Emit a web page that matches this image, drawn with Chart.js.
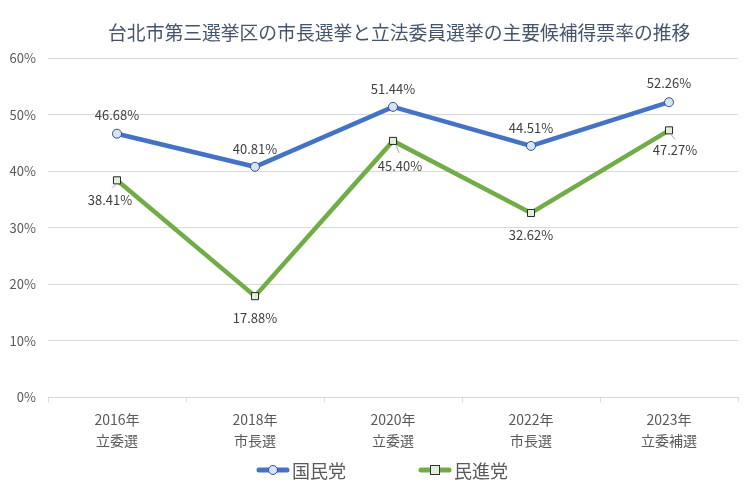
<!DOCTYPE html>
<html>
<head>
<meta charset="utf-8">
<script src="https://cdn.jsdelivr.net/npm/chart.js@4"></script>
<style>
  html, body { margin: 0; padding: 0; background: #fff; }
  #wrap { width: 753px; height: 497px; position: relative; }
  #legend { position: absolute; left: 256px; top: 458px; display: flex; gap: 72px;
            font-family: "Noto Sans CJK JP", "Noto Sans", sans-serif; font-size: 18px;
            line-height: 24px; color: #595959; }
  #legend .item { display: flex; align-items: center; gap: 2px; }
</style>
</head>
<body>
<div id="wrap"><canvas id="chart"></canvas><div id="legend"></div></div>
<script>
// categories (two-line labels)
const categories = [
    ['2016年', '立委選'],
    ['2018年', '市長選'],
    ['2020年', '立委選'],
    ['2022年', '市長選'],
    ['2023年', '立委補選']
]
// vote share (%)
const kmt = [46.68, 40.81, 51.44, 44.51, 52.26]   // 国民党
const dpp = [38.41, 17.88, 45.40, 32.62, 47.27]   // 民進党
const seriesNames = ['国民党', '民進党']

const FONT = '"Noto Sans CJK JP", "Noto Sans", sans-serif'
const BLUE = '#4472C4'
const GREEN = '#70AD47'

// label offsets relative to the point [dx, dy]
const kmtOffsets = [[0, -19], [0, -18], [0, -18], [0, -18], [0, -19]]
const dppOffsets = [[-7, 20], [0, 22], [7, 25], [0, 22], [6, 20]]
// leader lines for the green labels [x1, y1, x2, y2] relative to the point
const dppLeaders = [[-1, 4, -5, 8], null, [3, 4, 6, 12], null, [2, 4, 6, 9]]

// small canvas used as legend symbol: line with marker
function legendIcon(color, shape, fill) {
    const c = document.createElement('canvas')
    c.width = 34; c.height = 12
    const g = c.getContext('2d')
    g.strokeStyle = color
    g.lineWidth = 5
    g.lineCap = 'round'
    g.beginPath(); g.moveTo(3, 6); g.lineTo(31, 6); g.stroke()
    g.fillStyle = fill
    g.strokeStyle = shape === 'circle' ? '#2F528F' : '#333'
    g.lineWidth = 1
    if (shape === 'circle') {
        g.beginPath(); g.arc(17, 6, 4.5, 0, Math.PI * 2); g.fill(); g.stroke()
    } else {
        g.fillRect(12.5, 1.5, 9, 9); g.strokeRect(12.5, 1.5, 9, 9)
    }
    return c
}

// html legend built from the datasets
const htmlLegend = {
    id: 'htmlLegend',
    afterUpdate(chart) {
        const box = document.getElementById('legend')
        box.innerHTML = ''
        chart.data.datasets.forEach((ds, i) => {
            const item = document.createElement('div')
            item.className = 'item'
            item.appendChild(legendIcon(ds.borderColor, i === 0 ? 'circle' : 'rect', ds.pointBackgroundColor))
            const span = document.createElement('span')
            span.textContent = ds.label
            item.appendChild(span)
            box.appendChild(item)
        })
    }
}

// draw value labels next to points
const valueLabels = {
    id: 'valueLabels',
    afterDatasetsDraw(chart) {
        const ctx = chart.ctx
        ctx.save()
        ctx.font = '13px ' + FONT
        ctx.fillStyle = '#404040'
        ctx.textAlign = 'center'
        ctx.textBaseline = 'middle'
        const offs = [kmtOffsets, dppOffsets]
        chart.data.datasets.forEach((ds, i) => {
            const meta = chart.getDatasetMeta(i)
            meta.data.forEach((pt, j) => {
                const [dx, dy] = offs[i][j]
                const lead = i === 1 ? dppLeaders[j] : null
                if (lead) {
                    ctx.strokeStyle = '#a6a6a6'
                    ctx.lineWidth = 1
                    ctx.beginPath()
                    ctx.moveTo(pt.x + lead[0], pt.y + lead[1])
                    ctx.lineTo(pt.x + lead[2], pt.y + lead[3])
                    ctx.stroke()
                }
                ctx.fillText(ds.data[j].toFixed(2) + '%', pt.x + dx, pt.y + dy)
            })
        })
        ctx.restore()
    }
}

const chart = new Chart(document.getElementById('chart'), {
    type: 'line',
    data: {
        labels: categories,
        datasets: [{
            label: seriesNames[0],
            data: kmt,
            borderColor: BLUE,
            borderWidth: 4.5,
            pointStyle: 'circle',
            pointRadius: 4.5,
            pointBackgroundColor: '#DAE3F3',
            pointBorderColor: '#2F528F',
            pointBorderWidth: 1,
            tension: 0
        }, {
            label: seriesNames[1],
            data: dpp,
            borderColor: GREEN,
            borderWidth: 4.5,
            pointStyle: 'rect',
            pointRadius: 5,
            pointBackgroundColor: '#E2F0D9',
            pointBorderColor: '#262626',
            pointBorderWidth: 1,
            tension: 0
        }]
    },
    options: {
        responsive: true,
        maintainAspectRatio: false,
        animation: false,
        layout: { padding: { left: 4, right: 15, top: 4, bottom: 42 } },
        scales: {
            x: {
                offset: true,
                grid: { display: true, drawOnChartArea: false, offset: true, tickLength: 5, color: '#d9d9d9' },
                border: { color: '#d9d9d9' },
                ticks: { color: '#595959', font: { family: FONT, size: 14, lineHeight: 1.45 }, padding: 8, maxRotation: 0 },
                afterFit(scale) { scale.height = 58 }
            },
            y: {
                min: 0,
                max: 60,
                grid: { color: '#d9d9d9', drawTicks: false },
                border: { display: false },
                ticks: {
                    stepSize: 10,
                    color: '#595959',
                    font: { family: FONT, size: 13 },
                    padding: 12,
                    callback: v => v + '%'
                },
                afterFit(scale) { scale.width = 44 }
            }
        },
        plugins: {
            title: {
                display: true,
                // leading spaces move the title right like in the original
                text: '\u3000\u3000\u3000台北市第三選挙区の市長選挙と立法委員選挙の主要候補得票率の推移',
                color: '#44546A',
                font: { family: FONT, size: 18.8, weight: 'normal' },
                padding: { top: 18, bottom: 14 }
            },
            legend: { display: false },
            tooltip: { enabled: false }
        }
    },
    plugins: [valueLabels, htmlLegend]
})
</script>
</body>
</html>
